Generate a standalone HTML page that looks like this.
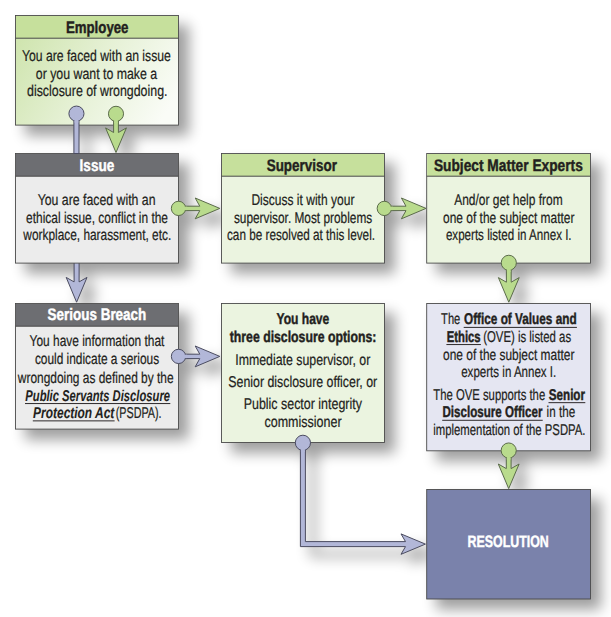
<!DOCTYPE html>
<html lang="en">
<head>
<meta charset="utf-8">
<title>Disclosure process flowchart</title>
<style>
html,body{margin:0;padding:0;background:#fff;}
svg{display:block;}
text{font-family:"Liberation Sans",sans-serif;text-rendering:geometricPrecision;}
</style>
</head>
<body>
<svg width="611" height="617" viewBox="0 0 611 617">
<defs>
<linearGradient id="gE" x1="0" y1="0.3" x2="1" y2="0.7">
<stop offset="0" stop-color="#d0e5b0"/><stop offset="0.5" stop-color="#e6f1d6"/><stop offset="1" stop-color="#fafcf7"/>
</linearGradient>
<filter id="sh" filterUnits="userSpaceOnUse" x="0" y="0" width="611" height="617" color-interpolation-filters="sRGB">
<feGaussianBlur in="SourceAlpha" stdDeviation="7"/>
<feOffset dx="10" dy="10"/>
<feComponentTransfer><feFuncA type="linear" slope="0.38"/></feComponentTransfer>
</filter>
</defs>
<rect width="611" height="617" fill="#fff"/>
<!-- shadows -->
<g filter="url(#sh)">
<rect x="15.5" y="15.5" width="163" height="109.6" fill="url(#gE)" stroke="#4a4a4a" stroke-width="0.9"/>
<rect x="16" y="16" width="162" height="22.2" fill="#c6e09c"/>
<rect x="15.5" y="37.7" width="163" height="1" fill="#4a4a4a"/>
<rect x="15.5" y="153.5" width="163" height="109.6" fill="#ececec" stroke="#4a4a4a" stroke-width="0.9"/>
<rect x="16" y="154" width="162" height="22.2" fill="#6d6e72"/>
<rect x="15.5" y="175.7" width="163" height="1" fill="#4a4a4a"/>
<rect x="15.5" y="303.5" width="163" height="125.6" fill="#ececec" stroke="#4a4a4a" stroke-width="0.9"/>
<rect x="16" y="304" width="162" height="22.2" fill="#6d6e72"/>
<rect x="15.5" y="325.7" width="163" height="1" fill="#4a4a4a"/>
<rect x="221.5" y="153.5" width="163" height="109.6" fill="#ebf4e0" stroke="#4a4a4a" stroke-width="0.9"/>
<rect x="222" y="154" width="162" height="22.2" fill="#c6e09c"/>
<rect x="221.5" y="175.7" width="163" height="1" fill="#4a4a4a"/>
<rect x="426.7" y="153.5" width="163.8" height="109.6" fill="#ebf4e0" stroke="#4a4a4a" stroke-width="0.9"/>
<rect x="427.2" y="154" width="162.8" height="22.2" fill="#c6e09c"/>
<rect x="426.7" y="175.7" width="163.8" height="1" fill="#4a4a4a"/>
<rect x="221.5" y="303.5" width="163" height="139" fill="#ebf4e0" stroke="#4a4a4a" stroke-width="0.9"/>
<rect x="426.7" y="303.5" width="163.8" height="147.3" fill="#e5e6f2" stroke="#4a4a4a" stroke-width="0.9"/>
<rect x="426.7" y="489.5" width="163.8" height="109.5" fill="#7a82ab" stroke="#4a4a4a" stroke-width="0.9"/>
<path d="M74.1,262 L74.1,281.9 L66.19999999999999,277.4 L76.6,302.2 L87.0,277.4 L79.1,281.9 L79.1,262 Z" fill="#b2b7d8" stroke="#4b4c60" stroke-width="1"/>
<rect x="73.9" y="113.5" width="5.1" height="40" fill="#b2b7d8" stroke="#4b4c60" stroke-width="1"/><circle cx="76.45" cy="113.6" r="7.55" fill="#b2b7d8" stroke="#4b4c60" stroke-width="1"/><rect x="74.4" y="113.5" width="4.1" height="9" fill="#b2b7d8"/>
<path d="M113.6,113.8 L113.6,132.5 L105.6,127.9 L116,152.5 L126.4,127.9 L118.4,132.5 L118.4,113.8 Z" fill="#b9db8d" stroke="#5b6b4b" stroke-width="1" stroke-linejoin="miter"/><circle cx="116" cy="113.8" r="7.55" fill="#b9db8d" stroke="#5b6b4b" stroke-width="1"/><rect x="114.1" y="113.8" width="3.8" height="9.05" fill="#b9db8d"/>
<path d="M178.5,206.20000000000002 L199.8,206.20000000000002 L195.20000000000002,198.0 L219.8,208.4 L195.20000000000002,218.8 L199.8,210.6 L178.5,210.6 Z" fill="#b9db8d" stroke="#5b6b4b" stroke-width="1" stroke-linejoin="miter"/><circle cx="178.5" cy="208.4" r="7.15" fill="#b9db8d" stroke="#5b6b4b" stroke-width="1"/><rect x="178.5" y="206.70000000000002" width="8.65" height="3.4000000000000004" fill="#b9db8d"/>
<path d="M384.3,206.20000000000002 L406.0,206.20000000000002 L401.4,198.0 L426,208.4 L401.4,218.8 L406.0,210.6 L384.3,210.6 Z" fill="#b9db8d" stroke="#5b6b4b" stroke-width="1" stroke-linejoin="miter"/><circle cx="384.3" cy="208.4" r="7.15" fill="#b9db8d" stroke="#5b6b4b" stroke-width="1"/><rect x="384.3" y="206.70000000000002" width="8.65" height="3.4000000000000004" fill="#b9db8d"/>
<path d="M178.5,354.2 L199.8,354.2 L195.20000000000002,346.0 L219.8,356.4 L195.20000000000002,366.79999999999995 L199.8,358.59999999999997 L178.5,358.59999999999997 Z" fill="#b2b7d8" stroke="#4b4c60" stroke-width="1" stroke-linejoin="miter"/><circle cx="178.5" cy="356.4" r="7.15" fill="#b2b7d8" stroke="#4b4c60" stroke-width="1"/><rect x="178.5" y="354.7" width="8.65" height="3.4000000000000004" fill="#b2b7d8"/>
<path d="M506.40000000000003,262.8 L506.40000000000003,282.2 L498.40000000000003,277.59999999999997 L508.8,302.2 L519.2,277.59999999999997 L511.2,282.2 L511.2,262.8 Z" fill="#b9db8d" stroke="#5b6b4b" stroke-width="1" stroke-linejoin="miter"/><circle cx="508.8" cy="262.8" r="7.55" fill="#b9db8d" stroke="#5b6b4b" stroke-width="1"/><rect x="506.90000000000003" y="262.8" width="3.8" height="9.05" fill="#b9db8d"/>
<path d="M506.3,450.5 L506.3,468.6 L498.3,464.0 L508.7,488.6 L519.1,464.0 L511.09999999999997,468.6 L511.09999999999997,450.5 Z" fill="#b9db8d" stroke="#5b6b4b" stroke-width="1" stroke-linejoin="miter"/><circle cx="508.7" cy="450.5" r="7.55" fill="#b9db8d" stroke="#5b6b4b" stroke-width="1"/><rect x="506.8" y="450.5" width="3.8" height="9.05" fill="#b9db8d"/>
<path d="M300.4,442.8 L300.4,546.6 L405.5,546.6 L401,554.3000000000001 L425.4,544.1 L401,533.9 L405.5,541.6 L305.4,541.6 L305.4,442.8 Z" fill="#b2b7d8" stroke="#4b4c60" stroke-width="1"/><circle cx="302.9" cy="442.8" r="7.6" fill="#b2b7d8" stroke="#4b4c60" stroke-width="1"/><rect x="300.9" y="442.8" width="4.0" height="9" fill="#b2b7d8"/>
</g>
<!-- arrow passing behind a box -->
<g>
<path d="M74.1,262 L74.1,281.9 L66.19999999999999,277.4 L76.6,302.2 L87.0,277.4 L79.1,281.9 L79.1,262 Z" fill="#b2b7d8" stroke="#4b4c60" stroke-width="1"/>
</g>
<!-- boxes -->
<g>
<rect x="15.5" y="15.5" width="163" height="109.6" fill="url(#gE)" stroke="#4a4a4a" stroke-width="0.9"/>
<rect x="16" y="16" width="162" height="22.2" fill="#c6e09c"/>
<rect x="15.5" y="37.7" width="163" height="1" fill="#4a4a4a"/>
<rect x="15.5" y="153.5" width="163" height="109.6" fill="#ececec" stroke="#4a4a4a" stroke-width="0.9"/>
<rect x="16" y="154" width="162" height="22.2" fill="#6d6e72"/>
<rect x="15.5" y="175.7" width="163" height="1" fill="#4a4a4a"/>
<rect x="15.5" y="303.5" width="163" height="125.6" fill="#ececec" stroke="#4a4a4a" stroke-width="0.9"/>
<rect x="16" y="304" width="162" height="22.2" fill="#6d6e72"/>
<rect x="15.5" y="325.7" width="163" height="1" fill="#4a4a4a"/>
<rect x="221.5" y="153.5" width="163" height="109.6" fill="#ebf4e0" stroke="#4a4a4a" stroke-width="0.9"/>
<rect x="222" y="154" width="162" height="22.2" fill="#c6e09c"/>
<rect x="221.5" y="175.7" width="163" height="1" fill="#4a4a4a"/>
<rect x="426.7" y="153.5" width="163.8" height="109.6" fill="#ebf4e0" stroke="#4a4a4a" stroke-width="0.9"/>
<rect x="427.2" y="154" width="162.8" height="22.2" fill="#c6e09c"/>
<rect x="426.7" y="175.7" width="163.8" height="1" fill="#4a4a4a"/>
<rect x="221.5" y="303.5" width="163" height="139" fill="#ebf4e0" stroke="#4a4a4a" stroke-width="0.9"/>
<rect x="426.7" y="303.5" width="163.8" height="147.3" fill="#e5e6f2" stroke="#4a4a4a" stroke-width="0.9"/>
<rect x="426.7" y="489.5" width="163.8" height="109.5" fill="#7a82ab" stroke="#4a4a4a" stroke-width="0.9"/>
</g>
<!-- arrows -->
<g>
<rect x="73.9" y="113.5" width="5.1" height="40" fill="#b2b7d8" stroke="#4b4c60" stroke-width="1"/><circle cx="76.45" cy="113.6" r="7.55" fill="#b2b7d8" stroke="#4b4c60" stroke-width="1"/><rect x="74.4" y="113.5" width="4.1" height="9" fill="#b2b7d8"/>
<path d="M113.6,113.8 L113.6,132.5 L105.6,127.9 L116,152.5 L126.4,127.9 L118.4,132.5 L118.4,113.8 Z" fill="#b9db8d" stroke="#5b6b4b" stroke-width="1" stroke-linejoin="miter"/><circle cx="116" cy="113.8" r="7.55" fill="#b9db8d" stroke="#5b6b4b" stroke-width="1"/><rect x="114.1" y="113.8" width="3.8" height="9.05" fill="#b9db8d"/>
<path d="M178.5,206.20000000000002 L199.8,206.20000000000002 L195.20000000000002,198.0 L219.8,208.4 L195.20000000000002,218.8 L199.8,210.6 L178.5,210.6 Z" fill="#b9db8d" stroke="#5b6b4b" stroke-width="1" stroke-linejoin="miter"/><circle cx="178.5" cy="208.4" r="7.15" fill="#b9db8d" stroke="#5b6b4b" stroke-width="1"/><rect x="178.5" y="206.70000000000002" width="8.65" height="3.4000000000000004" fill="#b9db8d"/>
<path d="M384.3,206.20000000000002 L406.0,206.20000000000002 L401.4,198.0 L426,208.4 L401.4,218.8 L406.0,210.6 L384.3,210.6 Z" fill="#b9db8d" stroke="#5b6b4b" stroke-width="1" stroke-linejoin="miter"/><circle cx="384.3" cy="208.4" r="7.15" fill="#b9db8d" stroke="#5b6b4b" stroke-width="1"/><rect x="384.3" y="206.70000000000002" width="8.65" height="3.4000000000000004" fill="#b9db8d"/>
<path d="M178.5,354.2 L199.8,354.2 L195.20000000000002,346.0 L219.8,356.4 L195.20000000000002,366.79999999999995 L199.8,358.59999999999997 L178.5,358.59999999999997 Z" fill="#b2b7d8" stroke="#4b4c60" stroke-width="1" stroke-linejoin="miter"/><circle cx="178.5" cy="356.4" r="7.15" fill="#b2b7d8" stroke="#4b4c60" stroke-width="1"/><rect x="178.5" y="354.7" width="8.65" height="3.4000000000000004" fill="#b2b7d8"/>
<path d="M506.40000000000003,262.8 L506.40000000000003,282.2 L498.40000000000003,277.59999999999997 L508.8,302.2 L519.2,277.59999999999997 L511.2,282.2 L511.2,262.8 Z" fill="#b9db8d" stroke="#5b6b4b" stroke-width="1" stroke-linejoin="miter"/><circle cx="508.8" cy="262.8" r="7.55" fill="#b9db8d" stroke="#5b6b4b" stroke-width="1"/><rect x="506.90000000000003" y="262.8" width="3.8" height="9.05" fill="#b9db8d"/>
<path d="M506.3,450.5 L506.3,468.6 L498.3,464.0 L508.7,488.6 L519.1,464.0 L511.09999999999997,468.6 L511.09999999999997,450.5 Z" fill="#b9db8d" stroke="#5b6b4b" stroke-width="1" stroke-linejoin="miter"/><circle cx="508.7" cy="450.5" r="7.55" fill="#b9db8d" stroke="#5b6b4b" stroke-width="1"/><rect x="506.8" y="450.5" width="3.8" height="9.05" fill="#b9db8d"/>
<path d="M300.4,442.8 L300.4,546.6 L405.5,546.6 L401,554.3000000000001 L425.4,544.1 L401,533.9 L405.5,541.6 L305.4,541.6 L305.4,442.8 Z" fill="#b2b7d8" stroke="#4b4c60" stroke-width="1"/><circle cx="302.9" cy="442.8" r="7.6" fill="#b2b7d8" stroke="#4b4c60" stroke-width="1"/><rect x="300.9" y="442.8" width="4.0" height="9" fill="#b2b7d8"/>
</g>
<!-- labels -->
<g>
<text x="65.9" y="33.1" font-size="16.6" textLength="62.6" lengthAdjust="spacingAndGlyphs" fill="#231f20" stroke="#231f20" stroke-width="0.42" font-weight="bold">Employee</text>
<text x="21.9" y="61.1" font-size="15.6" textLength="149.0" lengthAdjust="spacingAndGlyphs" fill="#231f20" stroke="#231f20" stroke-width="0.22">You are faced with an issue</text>
<text x="35.8" y="78.7" font-size="15.6" textLength="121.4" lengthAdjust="spacingAndGlyphs" fill="#231f20" stroke="#231f20" stroke-width="0.22">or you want to make a</text>
<text x="27.0" y="96.2" font-size="15.6" textLength="140.5" lengthAdjust="spacingAndGlyphs" fill="#231f20" stroke="#231f20" stroke-width="0.22">disclosure of wrongdoing.</text>
<text x="79.6" y="170.6" font-size="16.6" textLength="34.7" lengthAdjust="spacingAndGlyphs" fill="#fff" stroke="#fff" stroke-width="0.42" font-weight="bold">Issue</text>
<text x="37.7" y="204.8" font-size="15.6" textLength="117.8" lengthAdjust="spacingAndGlyphs" fill="#231f20" stroke="#231f20" stroke-width="0.22">You are faced with an</text>
<text x="26.1" y="222.8" font-size="15.6" textLength="141.9" lengthAdjust="spacingAndGlyphs" fill="#231f20" stroke="#231f20" stroke-width="0.22">ethical issue, conflict in the</text>
<text x="23.3" y="240.1" font-size="15.6" textLength="147.9" lengthAdjust="spacingAndGlyphs" fill="#231f20" stroke="#231f20" stroke-width="0.22">workplace, harassment, etc.</text>
<text x="47.6" y="320.4" font-size="16.6" textLength="98.7" lengthAdjust="spacingAndGlyphs" fill="#fff" stroke="#fff" stroke-width="0.42" font-weight="bold">Serious Breach</text>
<text x="29.6" y="346.1" font-size="15.6" textLength="134.8" lengthAdjust="spacingAndGlyphs" fill="#231f20" stroke="#231f20" stroke-width="0.22">You have information that</text>
<text x="34.9" y="364.3" font-size="15.6" textLength="124.2" lengthAdjust="spacingAndGlyphs" fill="#231f20" stroke="#231f20" stroke-width="0.22">could indicate a serious</text>
<text x="17.8" y="382.6" font-size="15.6" textLength="155.8" lengthAdjust="spacingAndGlyphs" fill="#231f20" stroke="#231f20" stroke-width="0.22">wrongdoing as defined by the</text>
<text x="25.3" y="400.7" font-size="15.6" textLength="144.7" lengthAdjust="spacingAndGlyphs" fill="#231f20" stroke="#231f20" stroke-width="0.08" font-weight="bold" font-style="italic">Public Servants Disclosure</text>
<rect x="25.0" y="403.1" width="145.3" height="0.95" fill="#231f20"/>
<text x="33.1" y="418.0" font-size="15.6" textLength="81.2" lengthAdjust="spacingAndGlyphs" fill="#231f20" stroke="#231f20" stroke-width="0.08" font-weight="bold" font-style="italic">Protection Act</text>
<rect x="32.8" y="420.4" width="81.8" height="0.95" fill="#231f20"/>
<text x="115.7" y="418.0" font-size="15.6" textLength="45.9" lengthAdjust="spacingAndGlyphs" fill="#231f20" stroke="#231f20" stroke-width="0.22">(PSDPA).</text>
<text x="266.7" y="170.6" font-size="16.6" textLength="70.2" lengthAdjust="spacingAndGlyphs" fill="#231f20" stroke="#231f20" stroke-width="0.42" font-weight="bold">Supervisor</text>
<text x="251.4" y="204.8" font-size="15.6" textLength="103.0" lengthAdjust="spacingAndGlyphs" fill="#231f20" stroke="#231f20" stroke-width="0.22">Discuss it with your</text>
<text x="233.9" y="222.8" font-size="15.6" textLength="138.3" lengthAdjust="spacingAndGlyphs" fill="#231f20" stroke="#231f20" stroke-width="0.22">supervisor. Most problems</text>
<text x="227.0" y="240.1" font-size="15.6" textLength="148.0" lengthAdjust="spacingAndGlyphs" fill="#231f20" stroke="#231f20" stroke-width="0.22">can be resolved at this level.</text>
<text x="433.9" y="170.6" font-size="16.6" textLength="148.9" lengthAdjust="spacingAndGlyphs" fill="#231f20" stroke="#231f20" stroke-width="0.42" font-weight="bold">Subject Matter Experts</text>
<text x="454.2" y="204.8" font-size="15.6" textLength="108.5" lengthAdjust="spacingAndGlyphs" fill="#231f20" stroke="#231f20" stroke-width="0.22">And/or get help from</text>
<text x="443.1" y="222.8" font-size="15.6" textLength="131.3" lengthAdjust="spacingAndGlyphs" fill="#231f20" stroke="#231f20" stroke-width="0.22">one of the subject matter</text>
<text x="445.9" y="240.1" font-size="15.6" textLength="125.7" lengthAdjust="spacingAndGlyphs" fill="#231f20" stroke="#231f20" stroke-width="0.22">experts listed in Annex I.</text>
<text x="276.5" y="323.7" font-size="15.6" textLength="52.8" lengthAdjust="spacingAndGlyphs" fill="#231f20" stroke="#231f20" stroke-width="0.42" font-weight="bold">You have</text>
<text x="229.7" y="341.7" font-size="15.6" textLength="146.7" lengthAdjust="spacingAndGlyphs" fill="#231f20" stroke="#231f20" stroke-width="0.42" font-weight="bold">three disclosure options:</text>
<text x="235.3" y="364.5" font-size="15.6" textLength="135.0" lengthAdjust="spacingAndGlyphs" fill="#231f20" stroke="#231f20" stroke-width="0.22">Immediate supervisor, or</text>
<text x="228.3" y="386.8" font-size="15.6" textLength="148.9" lengthAdjust="spacingAndGlyphs" fill="#231f20" stroke="#231f20" stroke-width="0.22">Senior disclosure officer, or</text>
<text x="243.7" y="408.7" font-size="15.6" textLength="118.2" lengthAdjust="spacingAndGlyphs" fill="#231f20" stroke="#231f20" stroke-width="0.22">Public sector integrity</text>
<text x="264.5" y="427.3" font-size="15.6" textLength="77.1" lengthAdjust="spacingAndGlyphs" fill="#231f20" stroke="#231f20" stroke-width="0.22">commissioner</text>
<text x="441.1" y="323.7" font-size="15.6" textLength="19.2" lengthAdjust="spacingAndGlyphs" fill="#231f20" stroke="#231f20" stroke-width="0.22">The</text>
<text x="464.0" y="323.7" font-size="15.6" textLength="112.6" lengthAdjust="spacingAndGlyphs" fill="#231f20" stroke="#231f20" stroke-width="0.42" font-weight="bold">Office of Values and</text>
<rect x="463.7" y="326.9" width="113.2" height="0.95" fill="#231f20"/>
<text x="446.7" y="341.7" font-size="15.6" textLength="33.9" lengthAdjust="spacingAndGlyphs" fill="#231f20" stroke="#231f20" stroke-width="0.42" font-weight="bold">Ethics</text>
<rect x="446.4" y="344.1" width="34.5" height="0.95" fill="#231f20"/>
<text x="483.2" y="341.7" font-size="15.6" textLength="87.9" lengthAdjust="spacingAndGlyphs" fill="#231f20" stroke="#231f20" stroke-width="0.22">(OVE) is listed as</text>
<text x="443.1" y="359.8" font-size="15.6" textLength="131.3" lengthAdjust="spacingAndGlyphs" fill="#231f20" stroke="#231f20" stroke-width="0.22">one of the subject matter</text>
<text x="461.2" y="376.7" font-size="15.6" textLength="95.1" lengthAdjust="spacingAndGlyphs" fill="#231f20" stroke="#231f20" stroke-width="0.22">experts in Annex I.</text>
<text x="433.3" y="399.8" font-size="15.6" textLength="111.9" lengthAdjust="spacingAndGlyphs" fill="#231f20" stroke="#231f20" stroke-width="0.22">The OVE supports the</text>
<text x="548.8" y="399.8" font-size="15.6" textLength="36.2" lengthAdjust="spacingAndGlyphs" fill="#231f20" stroke="#231f20" stroke-width="0.42" font-weight="bold">Senior</text>
<rect x="548.5" y="402.2" width="36.8" height="0.95" fill="#231f20"/>
<text x="442.5" y="417.4" font-size="15.6" textLength="99.9" lengthAdjust="spacingAndGlyphs" fill="#231f20" stroke="#231f20" stroke-width="0.42" font-weight="bold">Disclosure Officer</text>
<rect x="442.2" y="419.8" width="100.5" height="0.95" fill="#231f20"/>
<text x="546.6" y="417.4" font-size="15.6" textLength="28.6" lengthAdjust="spacingAndGlyphs" fill="#231f20" stroke="#231f20" stroke-width="0.22">in the</text>
<text x="433.3" y="435.3" font-size="15.6" textLength="152.2" lengthAdjust="spacingAndGlyphs" fill="#231f20" stroke="#231f20" stroke-width="0.22">implementation of the PSDPA.</text>
<text x="467.5" y="546.7" font-size="16.5" textLength="81.3" lengthAdjust="spacingAndGlyphs" fill="#fff" stroke="#fff" stroke-width="0.42" font-weight="bold">RESOLUTION</text>
</g>
</svg>
</body>
</html>
